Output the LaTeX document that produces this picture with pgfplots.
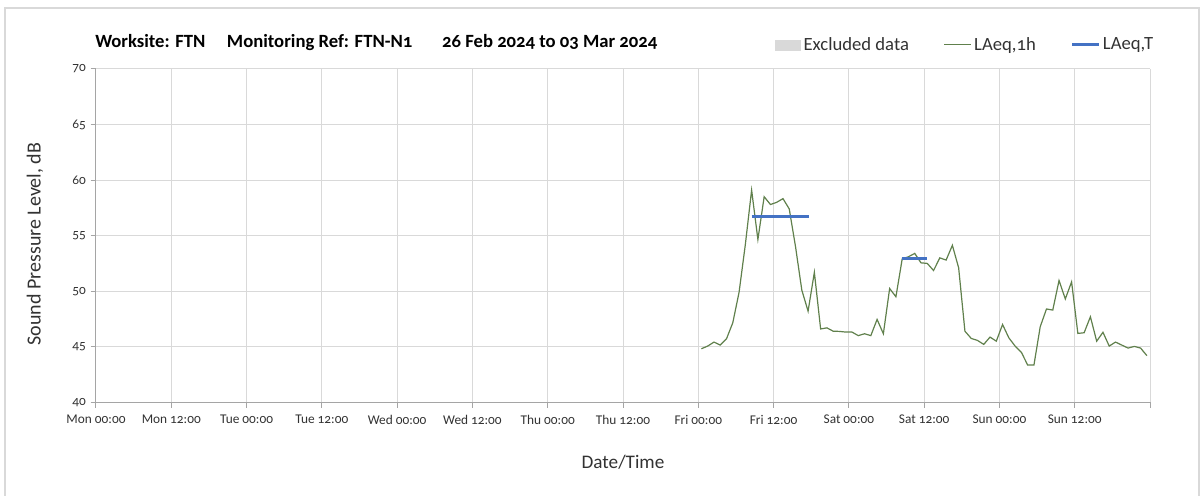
\documentclass[border=0pt]{standalone}
\usepackage{pgfplots}
\pgfplotsset{compat=1.18}
\usepackage{fontspec}
\setmainfont{Carlito}[Numbers=OldStyle]
\definecolor{lgreen}{RGB}{96,128,76}
\definecolor{lblue}{RGB}{68,114,196}
\definecolor{gridc}{RGB}{217,217,217}
\definecolor{axc}{RGB}{165,165,165}
\definecolor{txt}{RGB}{50,50,50}
\begin{document}
\begin{tikzpicture}[x=0.75pt,y=0.75pt]
\useasboundingbox (0,0) rectangle (1203,496);
\draw[gridc, line width=1pt] (5,-4) -- (5,488) -- (1199,488) -- (1199,-4);
\node[anchor=base west, inner sep=0pt, font=\fontsize{14}{16}\selectfont\bfseries] at (95,448) {Worksite: FTN\hspace{1.15em}Monitoring Ref: FTN-N1\hspace{1.6em}26 Feb 2024 to 03 Mar 2024};
\begin{axis}[
  at={(72pt,70.275pt)}, anchor=south west,
  scale only axis, width=790.5pt, height=250pt,
  xmin=0, xmax=168, ymin=40, ymax=70,
  xtick={0,12,...,168},
  xticklabels={Mon 00:00, Mon 12:00, Tue 00:00, Tue 12:00, Wed 00:00, Wed 12:00, Thu 00:00, Thu 12:00, Fri 00:00, Fri 12:00, Sat 00:00, Sat 12:00, Sun 00:00, Sun 12:00,{}},
  ytick={40,45,...,70},
  axis x line*=bottom, axis y line*=left,
  grid=major, major grid style={gridc, line width=0.75pt},
  axis line style={axc, line width=0.75pt, -},
  tick align=outside, major tick length=4pt,
  tick style={axc, line width=0.75pt},
  every tick label/.append style={font=\fontsize{10}{12}\selectfont, text=txt},
  /pgf/number format/assume math mode=true,
  xticklabel style={yshift=-2pt},
  xlabel={Date/Time},
  xlabel style={at={(axis description cs:0.5,-0.179)}, anchor=center, font=\fontsize{14.4}{16}\selectfont, text=txt},
  ylabel={Sound Pressure Level, dB},
  ylabel style={at={(axis description cs:-0.0579,0.475)}, anchor=center, font=\fontsize{15}{17}\selectfont, text=txt},
  legend style={at={(axis description cs:0.644,1.0723)}, anchor=west, draw=none, fill=none,
    legend columns=3, font=\fontsize{14}{16}\selectfont, text=txt, inner sep=0pt,
    /tikz/every even column/.append style={column sep=24pt},
    nodes={inner sep=2pt}},
  legend image code/.code={\draw[#1] (0pt,0pt) -- (20pt,0pt);},
]
\addlegendimage{legend image code/.code={\fill[gridc] (0pt,-3.75pt) rectangle (19pt,3.75pt);}}
\addlegendentry{Excluded data}
\addplot[lgreen, line width=0.9pt] coordinates {
(96.5,44.82) (97.5,45.06) (98.5,45.42) (99.5,45.15) (100.5,45.72) (101.5,47.16)
(102.5,49.9) (103.5,54.2) (104.5,59.1) (105.5,54.65) (106.5,58.5) (107.5,57.8)
(108.5,58.0) (109.5,58.33) (110.5,57.4) (111.5,54.0) (112.5,50.1) (113.5,48.2)
(114.5,51.7) (115.5,46.6) (116.5,46.7) (117.5,46.4) (118.5,46.38) (119.5,46.32)
(120.5,46.32) (121.5,46.0) (122.5,46.17) (123.5,46.0) (124.5,47.46) (125.5,46.17)
(126.5,50.24) (127.5,49.5) (128.5,52.9) (129.5,53.1) (130.5,53.4) (131.5,52.55)
(132.5,52.5) (133.5,51.86) (134.5,53.0) (135.5,52.8) (136.5,54.13) (137.5,52.1)
(138.5,46.4) (139.5,45.75) (140.5,45.57) (141.5,45.21) (142.5,45.87) (143.5,45.5)
(144.5,47.0) (145.5,45.8) (146.5,45.06) (147.5,44.5) (148.5,43.35) (149.5,43.35)
(150.5,46.8) (151.5,48.4) (152.5,48.3) (153.5,50.96) (154.5,49.3) (155.5,50.84)
(156.5,46.2) (157.5,46.26) (158.5,47.7) (159.5,45.5) (160.5,46.3) (161.5,45.06)
(162.5,45.42) (163.5,45.15) (164.5,44.88) (165.5,45.03) (166.5,44.88) (167.5,44.2)
};
\addlegendentry{LAeq,1h}
\addplot[lblue, line width=2.3pt] coordinates {(104.5,56.75) (113.6,56.75)};
\addlegendentry{LAeq,T}
\addplot[lblue, line width=2.3pt, forget plot] coordinates {(128.4,52.9) (132.5,52.9)};
\end{axis}
\end{tikzpicture}
\end{document}
